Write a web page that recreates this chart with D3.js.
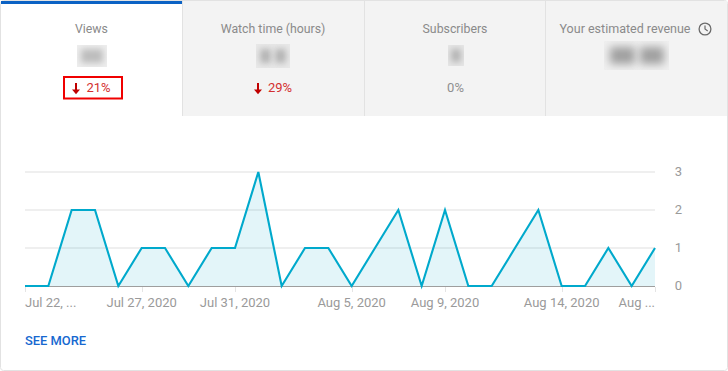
<!DOCTYPE html>
<html><head><meta charset="utf-8">
<script src="https://cdn.jsdelivr.net/npm/d3@7"></script>
<style>html,body{margin:0;padding:0;background:#fff}svg{display:block}text{font-family:Roboto,sans-serif}</style>
</head><body><div id="c"></div>
<script>
const days = ["2020-07-22","2020-07-23","2020-07-24","2020-07-25","2020-07-26","2020-07-27","2020-07-28","2020-07-29","2020-07-30","2020-07-31","2020-08-01","2020-08-02","2020-08-03","2020-08-04","2020-08-05","2020-08-06","2020-08-07","2020-08-08","2020-08-09","2020-08-10","2020-08-11","2020-08-12","2020-08-13","2020-08-14","2020-08-15","2020-08-16","2020-08-17","2020-08-18"];
const views = [0,0,2,2,0,1,1,0,1,1,3,0,1,1,0,1,2,0,2,0,0,1,2,0,0,1,0,1];
const yTicks = [0,1,2,3];
const tickDays = ["2020-07-22","2020-07-27","2020-07-31","2020-08-05","2020-08-09","2020-08-14","2020-08-18"];
const tickLabels = ["Jul 22, ...","Jul 27, 2020","Jul 31, 2020","Aug 5, 2020","Aug 9, 2020","Aug 14, 2020","Aug ..."];
const tabNames = ["Views","Watch time (hours)","Subscribers","Your estimated revenue"];
const tabDeltas = ["21%","29%","0%",""];

const W=728,H=371;
const svg=d3.select("#c").append("svg").attr("width",W).attr("height",H);
const defs=svg.append("defs");
const blur=(id,s)=>defs.append("filter").attr("id",id).attr("filterUnits","userSpaceOnUse").attr("x",0).attr("y",0).attr("width",W).attr("height",H)
  .append("feGaussianBlur").attr("stdDeviation",s);
blur("b",3.2);blur("b2",4);

// card
svg.append("rect").attr("x",0.5).attr("y",0.5).attr("width",727).attr("height",370).attr("rx",3)
  .attr("fill","#fff").attr("stroke","#e2e2e2");

// tabs
svg.append("rect").attr("x",183).attr("y",1).attr("width",544).attr("height",115).attr("fill","#f3f3f3");
[182.5,364.5,545.5].forEach(x=>svg.append("line").attr("x1",x).attr("x2",x).attr("y1",1).attr("y2",116).attr("stroke","#e2e2e2"));
svg.append("rect").attr("x",1).attr("y",1).attr("width",181).attr("height",3).attr("fill","#0b62c4");

const cx=[91.5,273,455,625];
tabNames.forEach((t,i)=>svg.append("text").attr("x",cx[i]).attr("y",33).attr("text-anchor","middle")
  .attr("font-size",i==3?12.5:12.3).attr("fill","#8a8a8a").text(t));

// clock icon
const clk=svg.append("g").attr("transform","translate(705,29)").attr("fill","none").attr("stroke","#6a6a6a");
clk.append("circle").attr("r",5.9).attr("stroke-width",1.3);
clk.append("path").attr("d","M0,-3.4V0L2.7,1.9").attr("stroke-width",1.2);

// blurred values: pale box, blobs blurred inside it
const boxes=[
 {r:[77,45,30,22],bg:"#eeeeee",fill:"#bdbdbd",f:"b",blobs:[[81,49,22,14]]},
 {r:[256,44,34,24],bg:"#e8e8e8",fill:"#b4b4b4",f:"b",blobs:[[260,49,11,14],[275,49,11,14]]},
 {r:[448,45,16,21],bg:"#e6e6e6",fill:"#b4b4b4",f:"b",blobs:[[451,49,10,13]]},
 {r:[604,41,65,29],bg:"#efefef",fill:"#a0a0a0",f:"b2",blobs:[[610,47,25,17],[640,47,24,17]]}
];
boxes.forEach((b,i)=>{
  defs.append("clipPath").attr("id","k"+i).append("rect").attr("x",b.r[0]).attr("y",b.r[1]).attr("width",b.r[2]).attr("height",b.r[3]);
  const g=svg.append("g").attr("clip-path",`url(#k${i})`);
  g.append("rect").attr("x",b.r[0]).attr("y",b.r[1]).attr("width",b.r[2]).attr("height",b.r[3]).attr("fill",b.bg);
  b.blobs.forEach(o=>g.append("rect").attr("x",o[0]).attr("y",o[1]).attr("width",o[2]).attr("height",o[3]).attr("fill",b.fill).attr("filter",`url(#${b.f})`));
});

// deltas
const red="#d32f2f";
function arrow(x,y){svg.append("path").attr("d",`M${x-1},${y-5.5}h2v6.5h3l-4,4.8l-4,-4.8h3z`).attr("fill","#c00000");}
svg.append("text").attr("x",86.5).attr("y",92).attr("font-size",13).attr("fill",red).text(tabDeltas[0]);
arrow(76,88.5);
svg.append("text").attr("x",268).attr("y",92).attr("font-size",13).attr("fill",red).text(tabDeltas[1]);
arrow(258,88.5);
svg.append("text").attr("x",455.5).attr("y",92).attr("text-anchor","middle").attr("font-size",13).attr("fill","#8f8f8f").text(tabDeltas[2]);
svg.append("rect").attr("x",64).attr("y",77).attr("width",58).attr("height",21.5).attr("fill","none").attr("stroke","#f00000").attr("stroke-width",2);

// chart
const parse=d3.utcParse("%Y-%m-%d");
const x=d3.scaleUtc().domain([parse(days[0]),parse(days[days.length-1])]).range([25,655]);
const y=d3.scaleLinear().domain([0,3]).range([286,172]);
const pts=days.map((d,i)=>({d:parse(d),v:views[i]}));

yTicks.filter(t=>t>0).forEach(t=>svg.append("line").attr("x1",25).attr("x2",655).attr("y1",y(t)).attr("y2",y(t)).attr("stroke","#efefef").attr("stroke-width",2));
svg.append("path").datum(pts).attr("d",d3.area().x(p=>x(p.d)).y0(y(0)).y1(p=>y(p.v))).attr("fill","#00a8c8").attr("fill-opacity",0.11);
svg.append("line").attr("x1",25).attr("x2",655).attr("y1",286.5).attr("y2",286.5).attr("stroke","#9e9e9e");
tickDays.forEach(d=>{const px=Math.round(x(parse(d)))+0.5;
  svg.append("line").attr("x1",px).attr("x2",px).attr("y1",287).attr("y2",292).attr("stroke","#e4e4e4");});
svg.append("path").datum(pts).attr("d",d3.line().x(p=>x(p.d)).y(p=>y(p.v))).attr("fill","none").attr("stroke","#00a9cc").attr("stroke-width",2.1).attr("stroke-linejoin","miter");

yTicks.forEach(t=>svg.append("text").attr("x",678.5).attr("y",y(t)+4).attr("text-anchor","middle").attr("font-size",13).attr("fill","#9a9a9a").text(t));
tickLabels.forEach((l,i)=>{const px=x(parse(tickDays[i]));
  const a=i==0?"start":i==tickLabels.length-1?"end":"middle";
  svg.append("text").attr("x",px).attr("y",307).attr("text-anchor",a).attr("font-size",13).attr("fill","#9a9a9a").text(l);});

svg.append("text").attr("x",25).attr("y",345).attr("font-size",12.9).attr("font-weight",500).attr("fill","#1668d0").text("SEE MORE");
</script></body></html>
